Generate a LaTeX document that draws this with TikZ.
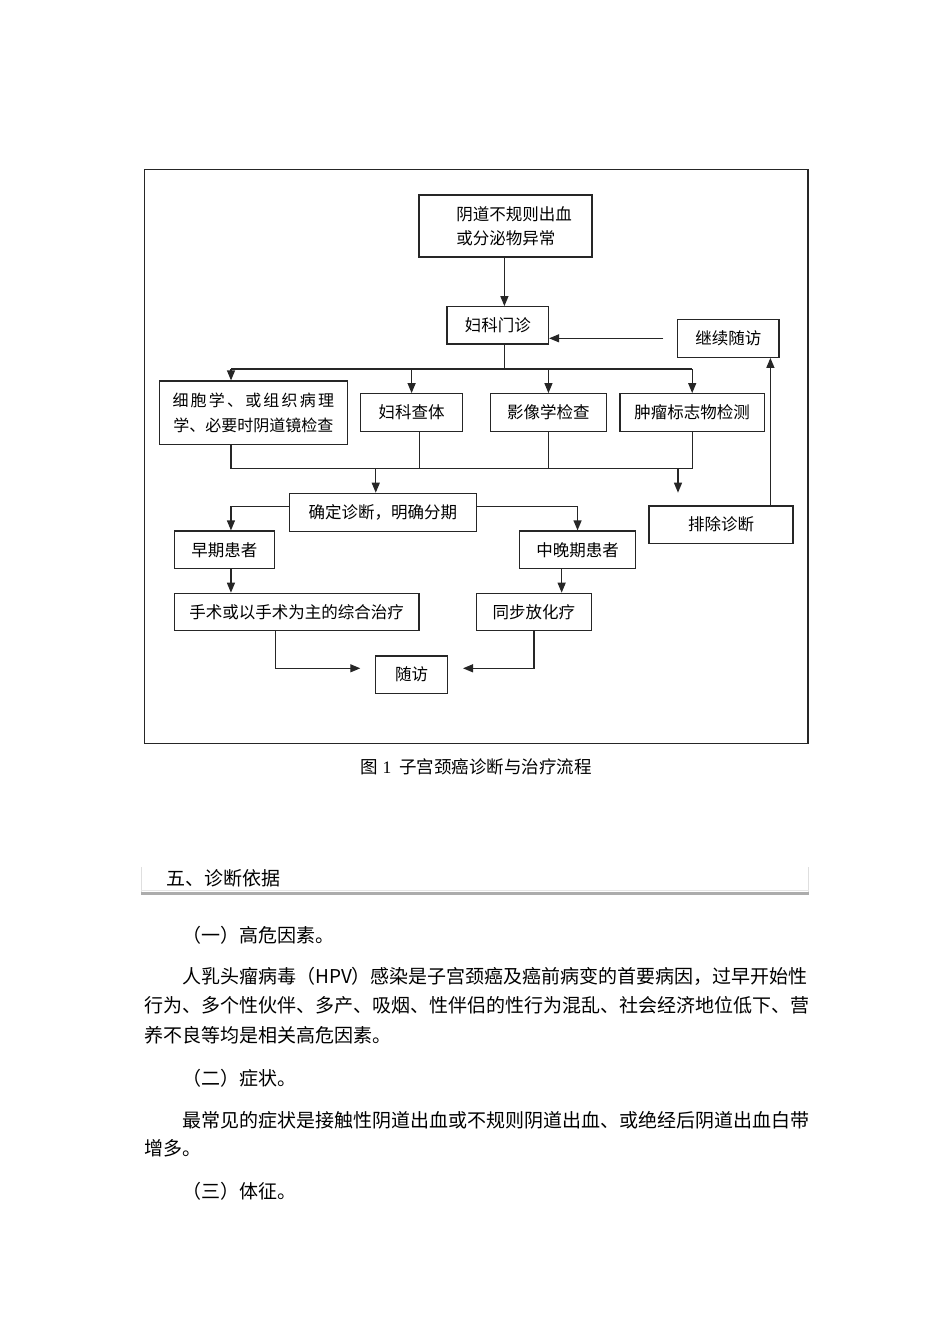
\documentclass[tikz,border=0pt]{standalone}
\usepackage{fontspec}
\setmainfont{Noto Sans CJK SC}
\newfontfamily\latinserif{Liberation Serif}
\usetikzlibrary{arrows.meta}
\tikzset{
  box/.style={draw=black!85, line width=1.2pt, inner sep=0pt, font=\fontsize{16.5}{24}\selectfont},
  link/.style={draw=black!85, line width=1.2pt},
  arr/.style={link, -{Triangle[length=10pt,width=8pt]}},
  para/.style={anchor=west, inner sep=0pt, font=\fontsize{19}{23}\selectfont},
}
\begin{document}
\begin{tikzpicture}[x=1pt,y=-1pt]
\useasboundingbox (0,0) rectangle (950,1344);

% Drawing frame of figure 1
\draw[link] (144.3,169.7) rectangle (808,743.3);

% Drawing boxes
\node[box, minimum width=173pt, minimum height=62pt, align=left] (sympt) at (505.5,226) {\hspace*{17pt}阴道不规则出血\\\hspace*{17pt}或分泌物异常};
\node[box, minimum width=101.5pt, minimum height=37.3pt] (clinic) at (497.75,325.35) {妇科门诊};
\node[box, minimum width=101.4pt, minimum height=38pt] (follow) at (728.3,338.3) {继续随访};
\node[box, minimum width=188.2pt, minimum height=63.3pt, align=center, font=\fontsize{16}{25}\selectfont] (cyto) at (253.3,412.65) {\makebox[161.6pt][s]{细\hfil 胞\hfil 学\hfil 、\hfil 或\hfil 组\hfil 织\hfil 病\hfil 理}\\学、必要时阴道镜检查};
\node[box, minimum width=101.8pt, minimum height=37.6pt] (exam) at (411.6,412.5) {妇科查体};
\node[box, minimum width=115.5pt, minimum height=37.6pt] (image) at (548.45,412.5) {影像学检查};
\node[box, minimum width=144.6pt, minimum height=37.6pt] (marker) at (692.2,412.5) {肿瘤标志物检测};
\node[box, minimum width=186.9pt, minimum height=38pt] (confirm) at (382.75,512.3) {确定诊断，明确分期};
\node[box, minimum width=144pt, minimum height=37.3pt] (exclude) at (721,524.65) {排除诊断};
\node[box, minimum width=100.5pt, minimum height=37.7pt] (early) at (224.45,549.85) {早期患者};
\node[box, minimum width=115.5pt, minimum height=37.7pt] (late) at (577.55,549.85) {中晚期患者};
\node[box, minimum width=244.7pt, minimum height=37pt] (surgery) at (296.55,611.8) {手术或以手术为主的综合治疗};
\node[box, minimum width=115.5pt, minimum height=37pt] (chemo) at (533.95,611.8) {同步放化疗};
\node[box, minimum width=71.8pt, minimum height=37.3pt] (visit) at (411.6,674.65) {随访};

% Drawing connectors
\coordinate (split) at (504.4,369);
\coordinate (splitL) at (231,369);
\draw[arr] (sympt.south -| split) -- (split |- clinic.north);
\coordinate (followOut) at ([xshift=-13.6pt]follow.west);
\draw[arr] (followOut) -- (clinic.east |- followOut);
\draw[link] (clinic.south -| split) -- (split);
\draw[link] (splitL) -- (marker.north |- split);
\draw[arr] (splitL) -- (splitL |- cyto.north);
\draw[arr] (exam.north |- split) -- (exam.north);
\draw[arr] (image.north |- split) -- (image.north);
\draw[arr] (marker.north |- split) -- (marker.north);

\coordinate (joinL) at (231,468.3);
\coordinate (joinR) at (692.6,468.3);
\coordinate (examOut) at ([xshift=7.7pt]exam.south);
\coordinate (confirmIn) at ([xshift=-7pt]confirm.north);
\coordinate (rejectTip) at (678,492.7);
\draw[link] (cyto.south -| joinL) -- (joinL) -- (joinR) -- (joinR |- marker.south);
\draw[link] (examOut) -- (examOut |- joinL);
\draw[link] (image.south) -- (image.south |- joinL);
\draw[arr] (confirmIn |- joinL) -- (confirmIn);
\draw[arr] (rejectTip |- joinL) -- (rejectTip);

\coordinate (backUp) at ([xshift=42.1pt]follow.south);
\draw[arr] (backUp |- exclude.north) -- (backUp);

\coordinate (confirmW) at ([yshift=5.6pt]confirm.west);
\coordinate (confirmE) at ([yshift=5.6pt]confirm.east);
\coordinate (earlyIn) at ([xshift=6.5pt]early.north);
\draw[arr] (confirmW) -| (earlyIn);
\draw[arr] (confirmE) -| (late.north);
\draw[arr] (earlyIn |- early.south) -- (earlyIn |- surgery.north);
\coordinate (lateOut) at ([xshift=-15.9pt]late.south);
\draw[arr] (lateOut) -- (lateOut |- chemo.north);

\coordinate (visitL) at (360.3,668.3);
\coordinate (visitR) at (463,668.3);
\coordinate (surgeryOut) at ([xshift=-21.35pt]surgery.south);
\draw[arr] (surgeryOut) |- (visitL);
\draw[arr] (chemo.south) |- (visitR);

% Caption
\node[inner sep=0pt, font=\fontsize{17.5}{20}\selectfont] (caption) at (476,766.7) {图\hspace{5pt}{\latinserif 1}\hspace{8pt}子宫颈癌诊断与治疗流程};

% Heading with rule
\draw[gray!25, line width=0.8pt] (141,867) -- (141,892);
\draw[gray!25, line width=0.8pt] (808.7,867) -- (808.7,892);
\draw[gray!20, line width=0.8pt] (141,890.7) -- (809,890.7);
\draw[gray!65, line width=2.5pt] (141,893.6) -- (809,893.6);
\node[para] (heading) at (166,878) {五、诊断依据};

% Body text
\node[para] (p1) at (182,935) {（一）高危因素。};
\node[para] (p2) at (182,976.7) {人乳头瘤病毒（HPV）感染是子宫颈癌及癌前病变的首要病因，过早开始性};
\node[para] (p3) at (144,1005) {行为、多个性伙伴、多产、吸烟、性伴侣的性行为混乱、社会经济地位低下、营};
\node[para] (p4) at (144,1035) {养不良等均是相关高危因素。};
\node[para] (p5) at (182,1078) {（二）症状。};
\node[para] (p6) at (182,1120.7) {最常见的症状是接触性阴道出血或不规则阴道出血、或绝经后阴道出血白带};
\node[para] (p7) at (144,1148) {增多。};
\node[para] (p8) at (182,1191.7) {（三）体征。};
\end{tikzpicture}
\end{document}
